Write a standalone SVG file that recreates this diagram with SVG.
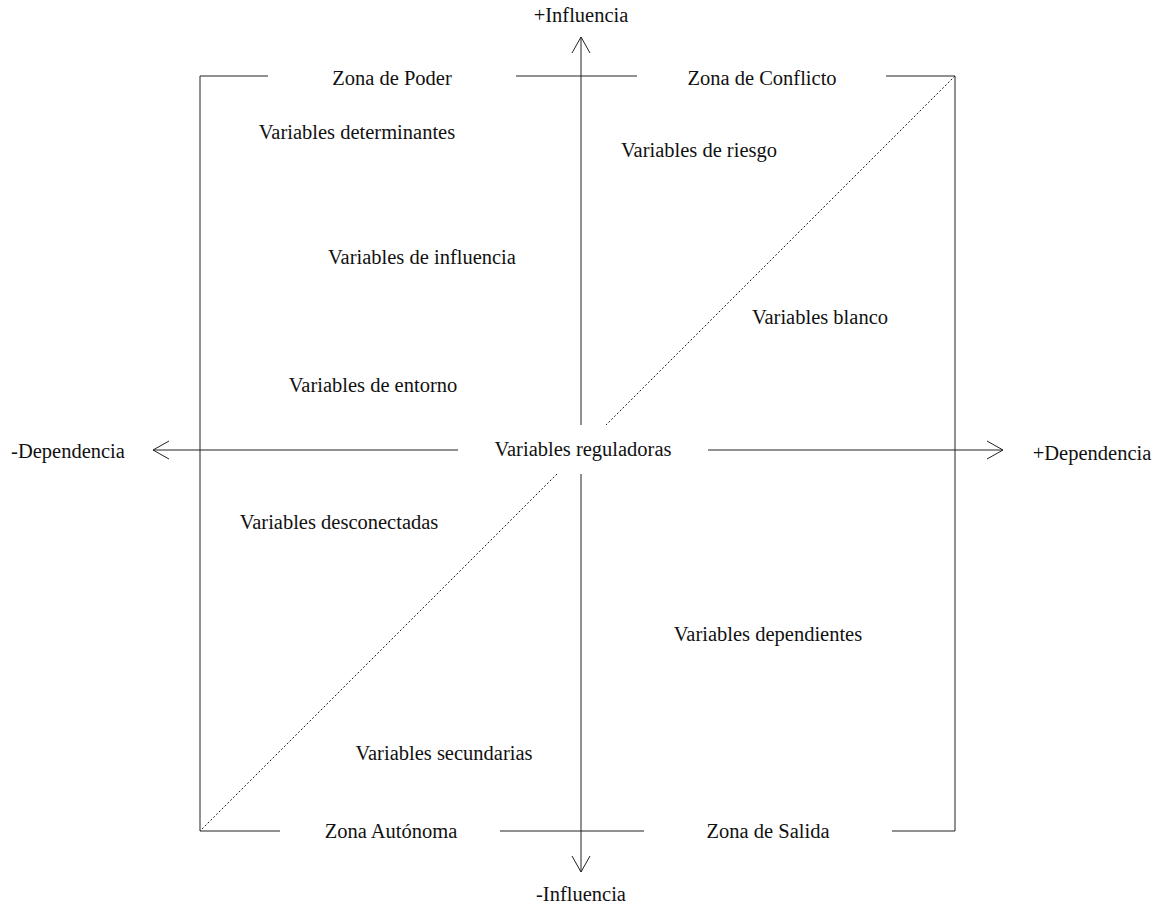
<svg xmlns="http://www.w3.org/2000/svg" width="1161" height="909" viewBox="0 0 1161 909">
<style>
text{font-family:"Liberation Serif","Times New Roman",serif;font-size:20.5px;fill:#111;text-anchor:middle}
.ln{stroke:#222;stroke-width:1;fill:none}
.dot{stroke:#222;stroke-width:1;fill:none;stroke-dasharray:2,2}
</style>
<defs>
<marker id="arr" viewBox="0 0 20 20" refX="16" refY="10" markerWidth="20" markerHeight="20" markerUnits="userSpaceOnUse" orient="auto">
<path d="M0,1 L16,10 L0,19" fill="none" stroke="#222" stroke-width="1"/>
</marker>
</defs>
<rect width="1161" height="909" fill="#fff"/>
<g id="connectors">
<path class="ln" d="M200,831 V76 H268"/>
<path class="ln" d="M516,76 H637"/>
<path class="ln" d="M886,76 H955 V831 H892"/>
<path class="ln" d="M644,831 H500"/>
<path class="ln" d="M280,831 H200"/>
<path class="ln" d="M581,425 V37" marker-end="url(#arr)"/>
<path class="ln" d="M581,474 V872" marker-end="url(#arr)"/>
<path class="ln" d="M458,450 H153" marker-end="url(#arr)"/>
<path class="ln" d="M708,450 H1003" marker-end="url(#arr)"/>
<path class="dot" d="M955,76 L606,425"/>
<path class="dot" d="M557,474 L200,831"/>
</g>
<g id="axis-top"><text x="581" y="22">+Influencia</text></g>
<g id="axis-bottom"><text x="581" y="901">-Influencia</text></g>
<g id="axis-left"><text x="68" y="458">-Dependencia</text></g>
<g id="axis-right"><text x="1092" y="460">+Dependencia</text></g>
<g id="zona-poder"><text x="392" y="85">Zona de Poder</text></g>
<g id="zona-conflicto"><text x="762" y="85">Zona de Conflicto</text></g>
<g id="zona-autonoma"><text x="391" y="838">Zona Autónoma</text></g>
<g id="zona-salida"><text x="768" y="838">Zona de Salida</text></g>
<g id="v-reguladoras"><text x="583" y="456">Variables reguladoras</text></g>
<g id="v-determinantes"><text x="357" y="139">Variables determinantes</text></g>
<g id="v-riesgo"><text x="699" y="157">Variables de riesgo</text></g>
<g id="v-influencia"><text x="422" y="264">Variables de influencia</text></g>
<g id="v-blanco"><text x="820" y="324">Variables blanco</text></g>
<g id="v-entorno"><text x="373" y="392">Variables de entorno</text></g>
<g id="v-desconectadas"><text x="339" y="529">Variables desconectadas</text></g>
<g id="v-dependientes"><text x="768" y="641">Variables dependientes</text></g>
<g id="v-secundarias"><text x="444" y="760">Variables secundarias</text></g>
</svg>
